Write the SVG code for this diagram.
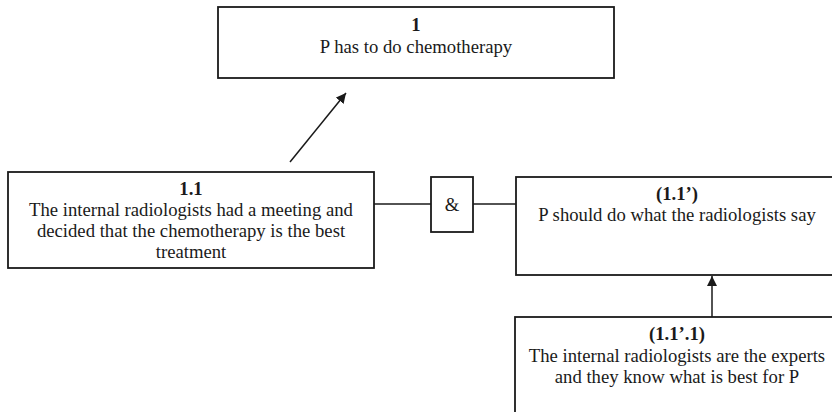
<svg xmlns="http://www.w3.org/2000/svg" width="832" height="412" viewBox="0 0 832 412">
<style>
.box{fill:#fff;stroke:#1a1a1a;stroke-width:1.8}
.ln{stroke:#1a1a1a;stroke-width:1.5;fill:none}
text{font-family:"Liberation Serif","Times New Roman",serif;font-size:18.7px;fill:#1a1a1a;text-anchor:middle}
.b{font-weight:bold}
</style>
<defs>
<marker id="ah" viewBox="0 0 10 10" refX="10" refY="5" markerWidth="10" markerHeight="10" markerUnits="userSpaceOnUse" orient="auto">
<path d="M0,0 L10,5 L0,10 Z" fill="#1a1a1a"/>
</marker>
</defs>
<g id="connectors">
<line class="ln" x1="290" y1="162" x2="346" y2="93" marker-end="url(#ah)"/>
<line class="ln" x1="374" y1="204" x2="431" y2="204"/>
<line class="ln" x1="473" y1="204" x2="516" y2="204"/>
<line class="ln" x1="712" y1="317" x2="712" y2="276" marker-end="url(#ah)"/>
</g>
<g id="n1">
<rect class="box" x="218" y="7" width="396" height="71"/>
<text class="b" x="416" y="31">1</text>
<text x="416" y="53">P has to do chemotherapy</text>
</g>
<g id="n1_1">
<rect class="box" x="8" y="172" width="366" height="96"/>
<text class="b" x="191" y="195">1.1</text>
<text x="191" y="216">The internal radiologists had a meeting and</text>
<text x="191" y="237">decided that the chemotherapy is the best</text>
<text x="191" y="258">treatment</text>
</g>
<g id="and">
<rect class="box" x="431" y="177" width="42" height="55"/>
<text x="452" y="211">&amp;</text>
</g>
<g id="n1_1p">
<rect class="box" x="516" y="177" width="330" height="98"/>
<text class="b" x="677" y="200">(1.1’)</text>
<text x="677" y="221">P should do what the radiologists say</text>
</g>
<g id="n1_1p_1">
<rect class="box" x="515" y="317" width="330" height="110"/>
<text class="b" x="677" y="340">(1.1’.1)</text>
<text x="677" y="362">The internal radiologists are the experts</text>
<text x="677" y="383">and they know what is best for P</text>
</g>
</svg>
